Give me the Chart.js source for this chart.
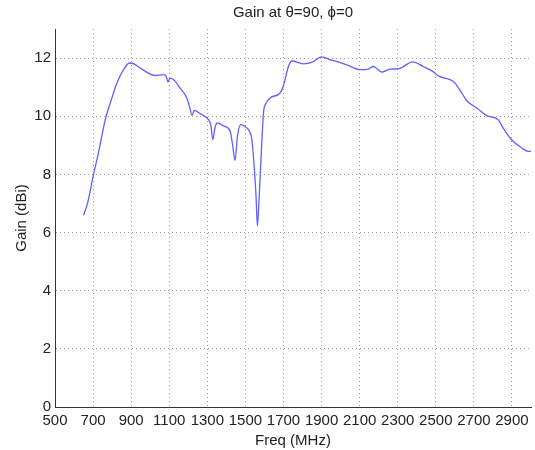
<!DOCTYPE html>
<html>
<head>
<meta charset="utf-8">
<script src="https://cdn.jsdelivr.net/npm/chart.js@4/dist/chart.umd.min.js"></script>
<style>
  html, body { margin: 0; padding: 0; background: #fff; }
  #wrap { width: 535px; height: 450px; }
</style>
</head>
<body>
<div id="wrap"><canvas id="gainCanvas" width="535" height="450"></canvas></div>
<script>
// frequentie (MHz) en gain (dBi)
const freq = [650, 671, 702, 728, 764, 799, 825, 860, 891, 912, 956, 1000, 1026, 1070, 1084, 1093,
  1105, 1122, 1157, 1192, 1206, 1220, 1231, 1262, 1306, 1318, 1329, 1341, 1353, 1385, 1420, 1434,
  1446, 1458, 1476, 1498, 1521, 1534, 1546, 1556, 1563, 1570, 1581, 1595, 1609, 1630, 1682, 1699,
  1726, 1744, 1804, 1849, 1901, 1945, 2032, 2102, 2146, 2172, 2186, 2216, 2260, 2303, 2379, 2434,
  2478, 2518, 2574, 2601, 2636, 2662, 2715, 2767, 2828, 2854, 2898, 2951, 2986, 3000];
const gain = [6.59, 7.01, 7.99, 8.73, 9.88, 10.63, 11.14, 11.60, 11.83, 11.81, 11.62, 11.45, 11.40, 11.43, 11.37, 11.18,
  11.31, 11.26, 10.97, 10.63, 10.34, 10.03, 10.20, 10.09, 9.88, 9.71, 9.19, 9.63, 9.77, 9.67, 9.48, 8.96,
  8.48, 9.30, 9.71, 9.65, 9.48, 9.19, 8.27, 7.24, 6.23, 6.90, 8.39, 10.11, 10.45, 10.63, 10.80, 11.03,
  11.71, 11.90, 11.80, 11.85, 12.04, 11.95, 11.77, 11.60, 11.62, 11.71, 11.66, 11.52, 11.62, 11.63, 11.87, 11.71,
  11.57, 11.37, 11.26, 11.14, 10.80, 10.54, 10.28, 10.02, 9.88, 9.59, 9.19, 8.91, 8.79, 8.79];

// aslabels
const xTicks = [500, 700, 900, 1100, 1300, 1500, 1700, 1900, 2100, 2300, 2500, 2700, 2900];
const yTicks = [0, 2, 4, 6, 8, 10, 12];

const fontName = '"Liberation Sans", Arial, sans-serif';
const gridStyle = {
  color: '#9a9a9a',
  lineWidth: 1,
  drawTicks: false
};

// titel boven het plotgebied, gecentreerd op de assen
const titlePlugin = {
  id: 'plotTitle',
  afterDraw(chart) {
    const ctx = chart.ctx;
    const area = chart.chartArea;
    ctx.save();
    ctx.font = '15px ' + fontName;
    ctx.fillStyle = '#222';
    ctx.textAlign = 'center';
    ctx.textBaseline = 'middle';
    ctx.fillText('Gain at \u03b8=90, \u03d5=0', (area.left + area.right) / 2, 13);
    ctx.restore();
  }
};

const ctx = document.getElementById('gainCanvas').getContext('2d');
new Chart(ctx, {
  type: 'line',
  data: {
    datasets: [{
      data: freq.map((f, i) => ({ x: f, y: gain[i] })),
      borderColor: '#6060ff',
      borderWidth: 1.3,
      pointRadius: 0,
      cubicInterpolationMode: 'monotone',
      fill: false
    }]
  },
  options: {
    responsive: false,
    animation: false,
    layout: { padding: { top: 29, right: 4, left: 0, bottom: 0 } },
    plugins: {
      legend: { display: false },
      tooltip: { enabled: false }
    },
    scales: {
      x: {
        type: 'linear',
        min: 500,
        max: 3000,
        afterBuildTicks: scale => { scale.ticks = xTicks.map(v => ({ value: v })); },
        afterFit: scale => { scale.height = 43; },
        grid: gridStyle,
        border: { display: true, color: '#333', width: 1, dash: [1, 3] },
        ticks: {
          color: '#222', padding: 5, maxRotation: 0, autoSkip: false,
          font: { size: 15, family: fontName },
          callback: v => String(v)
        },
        title: { display: true, text: 'Freq (MHz)', color: '#222', padding: 0, font: { size: 15, family: fontName } }
      },
      y: {
        min: 0,
        max: 13,
        afterBuildTicks: scale => { scale.ticks = yTicks.map(v => ({ value: v })); },
        afterFit: scale => { scale.width = 55; },
        grid: gridStyle,
        border: { display: true, color: '#333', width: 1, dash: [1, 3] },
        ticks: {
          color: '#222', padding: 4,
          font: { size: 15, family: fontName },
          callback: v => String(v)
        },
        title: { display: true, text: 'Gain (dBi)', color: '#222', padding: { top: 13 }, font: { size: 15, family: fontName } }
      }
    }
  },
  plugins: [titlePlugin]
});
</script>
</body>
</html>
